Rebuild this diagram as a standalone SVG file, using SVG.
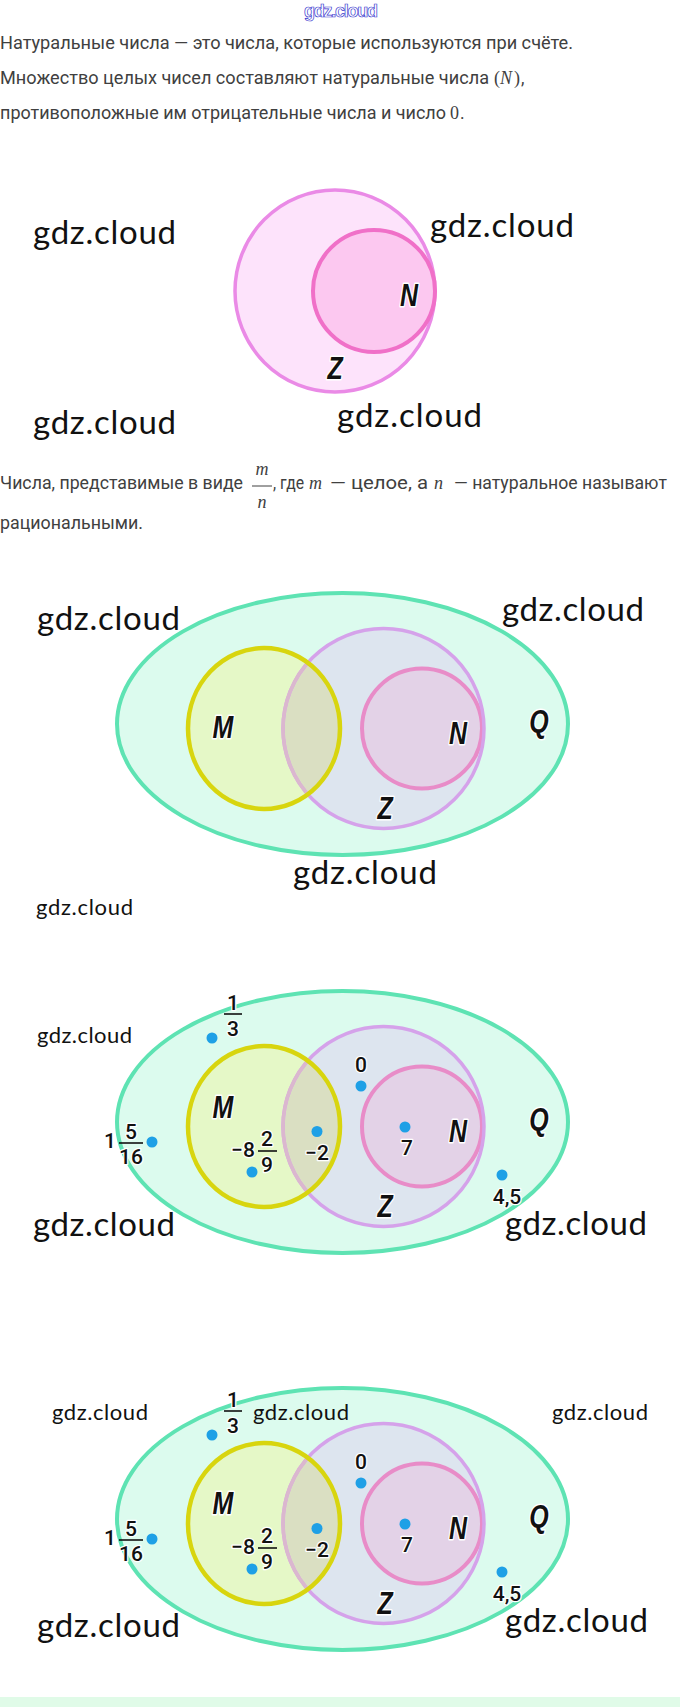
<svg xmlns="http://www.w3.org/2000/svg" width="680" height="1707" viewBox="0 0 680 1707">
<style>
.body{font-family:Roboto,"Liberation Sans",sans-serif;font-size:17.5px;fill:#404040}
.math{font-family:"Liberation Serif","DejaVu Serif",serif;font-size:18px;fill:#404040}
.mi{font-style:italic}
.wm{font-family:Lato,"Open Sans",sans-serif;fill:#111}
.wmb{font-size:33px}
.wms{font-size:22px}
.lbl{font-family:"Liberation Sans",Arial,sans-serif;font-weight:bold;font-style:italic;font-size:32px;fill:#111;stroke:#fff;stroke-width:3;paint-order:stroke;stroke-linejoin:round;text-anchor:middle}
.num{font-family:Roboto,"Liberation Sans",sans-serif;font-weight:500;font-size:21px;fill:#111;stroke:#fff;stroke-width:2.5;paint-order:stroke;stroke-linejoin:round;text-anchor:middle}
.bar{stroke:#111;stroke-width:1.6}
.dot{fill:#1ea0e6}
.q{fill:#dcfbee;stroke:#5ee3b3;stroke-width:4}
.mf{fill:#e5f8c7}
.ms{fill:none;stroke:#d8d50e;stroke-width:4.5}
.zf{fill:#dde5ef}
.ov{fill:#dadfc2}
.zs{fill:none;stroke:#d5a2ea;stroke-width:3.5}
.zsm{fill:none;stroke:#dbb7cf;stroke-width:3.5}
.nf{fill:#e3d2e7;stroke:#e88cc8;stroke-width:4}
</style>
<defs>
<clipPath id="clipM"><ellipse cx="264" cy="4.5" rx="76" ry="80.5"/></clipPath>
</defs>

<g id="header">
<text x="341" y="17" text-anchor="middle" font-family="'Liberation Sans',Arial,sans-serif" font-weight="bold" font-size="18" fill="#fff" stroke="#3a3ad0" stroke-width="0.7" textLength="74">gdz.cloud</text>
<text class="body" x="0" y="49" textLength="573" lengthAdjust="spacingAndGlyphs">Натуральные числа — это числа, которые используются при счёте.</text>
<text class="body" x="0" y="84" textLength="489" lengthAdjust="spacingAndGlyphs">Множество целых чисел составляют натуральные числа</text>
<text class="math" x="494" y="84">(</text>
<text class="math mi" x="500" y="84">N</text>
<text class="math" x="514" y="84">)</text>
<text class="body" x="521" y="84">,</text>
<text class="body" x="0" y="119" textLength="446" lengthAdjust="spacingAndGlyphs">противоположные им отрицательные числа и число</text>
<text class="math" x="450" y="119">0</text>
<text class="body" x="460" y="119">.</text>
</g>

<g id="diagram1">
<ellipse cx="335" cy="291" rx="100" ry="101" fill="#fde3fb" stroke="#ea8ae6" stroke-width="3.5"/>
<circle cx="374" cy="291" r="61" fill="#fcc8f0" stroke="#f070c8" stroke-width="4"/>
<text class="lbl" transform="translate(409,306) scale(0.78,1)">N</text>
<text class="lbl" transform="translate(335,379) scale(0.78,1)">Z</text>
<text class="wm wmb" x="33" y="244" textLength="143">gdz.cloud</text>
<text class="wm wmb" x="430" y="237" textLength="144">gdz.cloud</text>
<text class="wm wmb" x="33" y="434" textLength="143">gdz.cloud</text>
<text class="wm wmb" x="337" y="427" textLength="145">gdz.cloud</text>
</g>

<g id="text2">
<text class="body" x="0" y="489" textLength="243" lengthAdjust="spacingAndGlyphs">Числа, представимые в виде</text>
<text class="math mi" x="262" y="475" text-anchor="middle">m</text>
<line x1="252" y1="486" x2="272" y2="486" stroke="#404040" stroke-width="1"/>
<text class="math mi" x="262" y="508" text-anchor="middle">n</text>
<text class="body" x="273" y="489" textLength="31" lengthAdjust="spacingAndGlyphs">, где</text>
<text class="math mi" x="309" y="489">m</text>
<text class="body" x="330" y="489" textLength="98" lengthAdjust="spacingAndGlyphs">— целое, а</text>
<text class="math mi" x="434" y="489">n</text>
<text class="body" x="454" y="489" textLength="213" lengthAdjust="spacingAndGlyphs">— натуральное называют</text>
<text class="body" x="0" y="529" textLength="143" lengthAdjust="spacingAndGlyphs">рациональными.</text>
</g>

<g id="diagram2">
<g transform="translate(0,724)">
<ellipse class="q" cx="342.5" cy="0" rx="225.5" ry="131"/>
<ellipse class="mf" cx="264" cy="4.5" rx="76" ry="80.5"/>
<ellipse class="zf" cx="383.5" cy="4.5" rx="100.5" ry="100"/>
<ellipse class="ov" cx="383.5" cy="4.5" rx="100.5" ry="100" clip-path="url(#clipM)"/>
<circle class="nf" cx="422" cy="4.5" r="60"/>
<ellipse class="zs" cx="383.5" cy="4.5" rx="100.5" ry="100"/>
<ellipse class="zsm" cx="383.5" cy="4.5" rx="100.5" ry="100" clip-path="url(#clipM)"/>
<ellipse class="ms" cx="264" cy="4.5" rx="76" ry="80.5"/>
<text class="lbl" transform="translate(223,14) scale(0.78,1)">M</text>
<text class="lbl" transform="translate(458,20) scale(0.78,1)">N</text>
<text class="lbl" transform="translate(539,8) scale(0.78,1)">Q</text>
<text class="lbl" transform="translate(385,95) scale(0.78,1)">Z</text>
</g>
<text class="wm wmb" x="37" y="630" textLength="143">gdz.cloud</text>
<text class="wm wmb" x="502" y="621" textLength="142">gdz.cloud</text>
<text class="wm wmb" x="293" y="884" textLength="144">gdz.cloud</text>
<text class="wm wms" x="36" y="915" textLength="97">gdz.cloud</text>
</g>

<g id="diagram3">
<g transform="translate(0,1122)">
<ellipse class="q" cx="342.5" cy="0" rx="225.5" ry="131"/>
<ellipse class="mf" cx="264" cy="4.5" rx="76" ry="80.5"/>
<ellipse class="zf" cx="383.5" cy="4.5" rx="100.5" ry="100"/>
<ellipse class="ov" cx="383.5" cy="4.5" rx="100.5" ry="100" clip-path="url(#clipM)"/>
<circle class="nf" cx="422" cy="4.5" r="60"/>
<ellipse class="zs" cx="383.5" cy="4.5" rx="100.5" ry="100"/>
<ellipse class="zsm" cx="383.5" cy="4.5" rx="100.5" ry="100" clip-path="url(#clipM)"/>
<ellipse class="ms" cx="264" cy="4.5" rx="76" ry="80.5"/>
<text class="lbl" transform="translate(223,-4) scale(0.78,1)">M</text>
<text class="lbl" transform="translate(458,20) scale(0.78,1)">N</text>
<text class="lbl" transform="translate(539,8) scale(0.78,1)">Q</text>
<text class="lbl" transform="translate(385,95) scale(0.78,1)">Z</text>
<text class="num" x="233" y="-112">1</text>
<text class="num" x="233" y="-86">3</text>
<line class="bar" x1="224" y1="-108" x2="242" y2="-108"/>
<circle class="dot" cx="212" cy="-84" r="5.5"/>
<text class="num" x="110" y="26">1</text>
<text class="num" x="131" y="16.5">5</text>
<text class="num" x="131" y="42">16</text>
<line class="bar" x1="119" y1="21" x2="143" y2="21"/>
<circle class="dot" cx="152" cy="20" r="5.5"/>
<text class="num" x="243" y="35">−8</text>
<text class="num" x="267" y="24">2</text>
<text class="num" x="267" y="50">9</text>
<line class="bar" x1="258" y1="29" x2="277" y2="29"/>
<circle class="dot" cx="252" cy="50" r="5.5"/>
<circle class="dot" cx="317" cy="9.5" r="5.5"/>
<text class="num" x="317" y="38">−2</text>
<text class="num" x="361" y="-50">0</text>
<circle class="dot" cx="361" cy="-36" r="5.5"/>
<circle class="dot" cx="405" cy="5" r="5.5"/>
<text class="num" x="407" y="33">7</text>
<circle class="dot" cx="502" cy="53" r="5.5"/>
<text class="num" x="507" y="82">4,5</text>
</g>
<text class="wm wms" x="37" y="1043" textLength="95">gdz.cloud</text>
<text class="wm wmb" x="33" y="1236" textLength="142">gdz.cloud</text>
<text class="wm wmb" x="505" y="1235" textLength="142">gdz.cloud</text>
</g>

<g id="diagram4">
<g transform="translate(0,1519)">
<ellipse class="q" cx="342.5" cy="0" rx="225.5" ry="131"/>
<ellipse class="mf" cx="264" cy="4.5" rx="76" ry="80.5"/>
<ellipse class="zf" cx="383.5" cy="4.5" rx="100.5" ry="100"/>
<ellipse class="ov" cx="383.5" cy="4.5" rx="100.5" ry="100" clip-path="url(#clipM)"/>
<circle class="nf" cx="422" cy="4.5" r="60"/>
<ellipse class="zs" cx="383.5" cy="4.5" rx="100.5" ry="100"/>
<ellipse class="zsm" cx="383.5" cy="4.5" rx="100.5" ry="100" clip-path="url(#clipM)"/>
<ellipse class="ms" cx="264" cy="4.5" rx="76" ry="80.5"/>
<text class="lbl" transform="translate(223,-5) scale(0.78,1)">M</text>
<text class="lbl" transform="translate(458,20) scale(0.78,1)">N</text>
<text class="lbl" transform="translate(539,8) scale(0.78,1)">Q</text>
<text class="lbl" transform="translate(385,95) scale(0.78,1)">Z</text>
<text class="num" x="233" y="-112">1</text>
<text class="num" x="233" y="-86">3</text>
<line class="bar" x1="224" y1="-108" x2="242" y2="-108"/>
<circle class="dot" cx="212" cy="-84" r="5.5"/>
<text class="num" x="110" y="26">1</text>
<text class="num" x="131" y="16.5">5</text>
<text class="num" x="131" y="42">16</text>
<line class="bar" x1="119" y1="21" x2="143" y2="21"/>
<circle class="dot" cx="152" cy="20" r="5.5"/>
<text class="num" x="243" y="35">−8</text>
<text class="num" x="267" y="24">2</text>
<text class="num" x="267" y="50">9</text>
<line class="bar" x1="258" y1="29" x2="277" y2="29"/>
<circle class="dot" cx="252" cy="50" r="5.5"/>
<circle class="dot" cx="317" cy="9.5" r="5.5"/>
<text class="num" x="317" y="38">−2</text>
<text class="num" x="361" y="-50">0</text>
<circle class="dot" cx="361" cy="-36" r="5.5"/>
<circle class="dot" cx="405" cy="5" r="5.5"/>
<text class="num" x="407" y="33">7</text>
<circle class="dot" cx="502" cy="53" r="5.5"/>
<text class="num" x="507" y="82">4,5</text>
</g>
<text class="wm wms" x="52" y="1420" textLength="96">gdz.cloud</text>
<text class="wm wms" x="253" y="1420" textLength="96">gdz.cloud</text>
<text class="wm wms" x="552" y="1420" textLength="96">gdz.cloud</text>
<text class="wm wmb" x="37" y="1637" textLength="143">gdz.cloud</text>
<text class="wm wmb" x="505" y="1632" textLength="143">gdz.cloud</text>
</g>

<rect id="footer-band" x="0" y="1697" width="680" height="10" fill="#e0fbe8"/>
</svg>
